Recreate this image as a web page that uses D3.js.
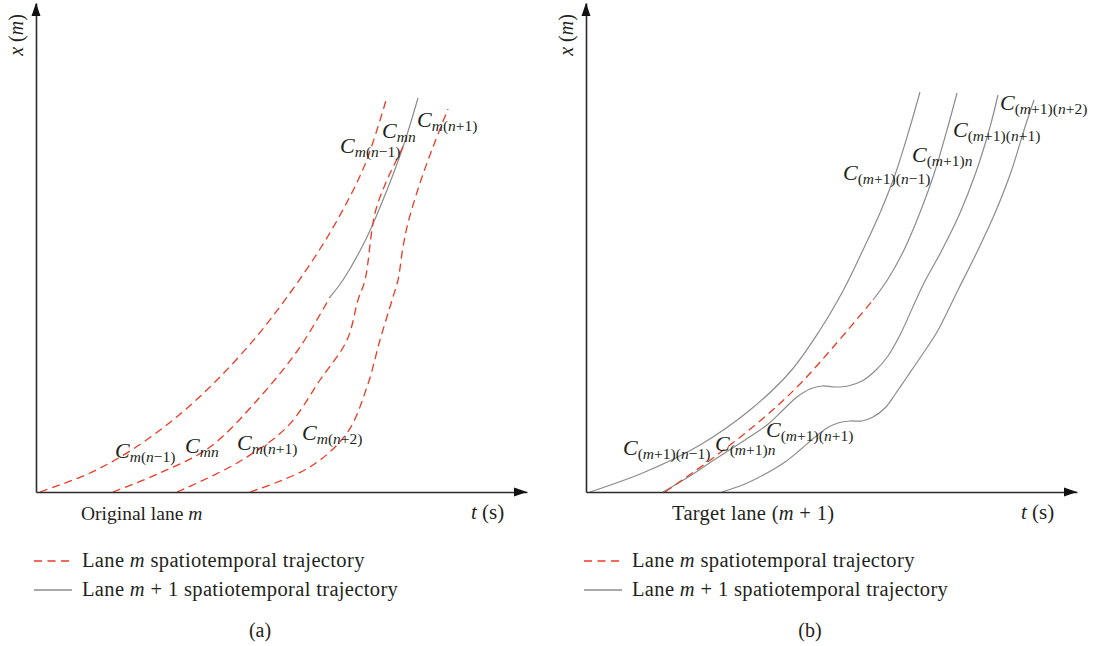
<!DOCTYPE html>
<html>
<head>
<meta charset="utf-8">
<script src="https://cdn.jsdelivr.net/npm/d3@7"></script>
<style>
  body { margin: 0; background: #fff; }
  svg text { font-family: "Liberation Serif", "DejaVu Serif", serif; fill: #231f20; }
</style>
</head>
<body>
<div class="chart"></div>
<script>
// schematic trajectories, units: t along time axis, x along distance axis
// panel (a): original lane m
var laneM_prev = [[0.4,0],[5.4,1.9],[9.4,4.1],[13.7,7.2],[17.9,11.0],[22.1,15.6],[25.4,19.9],[28.4,24.3],[30.9,28.6],[33.0,33.0],[35.1,39.5]];
var laneM_n = [[7.7,0],[12.4,1.9],[17.4,4.5],[22.4,9.5],[26.4,14.5],[29.4,19.5]];
var laneM_nChanged = [[29.4,19.5],[30.7,21.2],[33.1,25.5],[35.1,30.2],[36.7,34.5],[38.2,39.4]];
var laneM_next = [[14.1,0],[20.1,2.9],[25.1,6.5],[28.4,11.2],[31.1,15.2],[32.2,19.2],[32.9,21.2],[33.9,27.9],[35.1,31.2],[36.4,33.9],[37.0,35.2]];
var laneM_next2 = [[21.4,0],[27.4,2.5],[31.1,5.9],[33.1,10.5],[34.4,15.2],[35.7,19.5],[36.2,21.2],[36.7,24.5],[37.2,26.9],[38.4,30.9],[39.7,34.5],[41.2,38.3]];

// panel (b): target lane m+1
var target_prev = [[0.4,0],[5.9,2.0],[11.4,4.7],[16.4,8.2],[20.4,12.0],[23.4,16.2],[25.8,20.3],[27.6,24.0],[29.4,27.9],[31.0,32.0],[32.4,36.5],[33.4,40.0]];
var target_merge = [[7.9,0],[13.1,3.7],[18.1,7.7],[21.4,10.8],[24.9,14.7],[28.7,19.2]];
var target_mergeOn = [[28.7,19.2],[30.2,21.3],[31.8,24.2],[33.3,27.7],[34.8,31.8],[36.1,36.2],[37.1,39.9]];
var target_n = [[7.7,0],[10.4,1.6],[13.1,3.4],[15.9,5.2],[18.1,6.7],[19.7,8.2],[21.1,9.5],[22.4,10.3],[23.6,10.6],[24.9,10.5],[26.2,10.6],[27.6,11.1],[28.9,12.1],[30.2,13.6],[31.4,15.7],[33.7,20.7],[35.6,24.2],[37.4,27.9],[39.0,32.0],[40.4,36.5],[41.2,39.7]];
var target_next = [[13.6,0],[15.9,0.8],[18.1,1.9],[19.9,3.0],[21.4,4.2],[22.9,5.5],[24.1,6.4],[25.2,6.9],[26.4,7.1],[27.6,7.1],[28.7,7.5],[29.9,8.4],[31.0,9.9],[32.1,11.5],[33.6,13.7],[35.1,16.0],[37.2,20.2],[39.1,24.0],[40.9,27.9],[42.5,32.0],[43.9,36.5],[44.8,39.2]];

// vehicle labels: subscript, anchor t, anchor x
var labelsA = [["m(n−1)",30.4,33.9],["mn",34.6,35.4],["m(n+1)",38.1,36.5],
               ["m(n−1)",7.9,3.4],["mn",14.9,3.9],["m(n+1)",20.1,4.2],["m(n+2)",26.6,5.2]];
var labelsB = [["(m+1)(n−1)",25.7,31.2],["(m+1)n",32.6,33.0],["(m+1)(n+1)",36.7,35.5],["(m+1)(n+2)",41.4,38.2],
               ["(m+1)(n−1)",3.7,3.7],["(m+1)n",12.9,4.1],["(m+1)(n+1)",18.0,5.5]];

var legendItems = ["Lane |m| spatiotemporal trajectory", "Lane |m| + 1 spatiotemporal trajectory"];
var tMax = 49.1, xMax = 48.9;

var red = "#ec3a24", gray = "#8c8c8c", axisColor = "#2b2b2b";

var svg = d3.select(".chart").append("svg")
  .attr("width", 1096).attr("height", 646);

var panels = [
  {left: 36, lane: "Original lane |m|", laneX: 81, laneSize: 19.5, tag: "(a)", red: [laneM_prev, laneM_n, laneM_next, laneM_next2], gray: [laneM_nChanged], labels: labelsA},
  {left: 586, lane: "Target lane (|m| + 1)", laneX: 672, laneSize: 20.5, tag: "(b)", red: [target_merge], gray: [target_prev, target_mergeOn, target_n, target_next], labels: labelsB}
];

// write text where |..| segments are italic
function richText(sel, str) {
  str.split("|").forEach(function(part, i){
    if (part === "") return;
    sel.append("tspan").style("font-style", i % 2 ? "italic" : "normal").text(part);
  });
}

panels.forEach(function(p){
  var x = d3.scaleLinear().domain([0, tMax]).range([p.left, p.left + 491]);
  var y = d3.scaleLinear().domain([0, xMax]).range([492, 3]);
  var g = svg.append("g");

  var line = d3.line().x(function(d){ return x(d[0]); }).y(function(d){ return y(d[1]); })
    .curve(d3.curveCatmullRom.alpha(0.5));

  g.selectAll(".gl").data(p.gray).enter().append("path")
    .attr("d", line).attr("fill", "none").attr("stroke", gray).attr("stroke-width", 1.2);
  g.selectAll(".rl").data(p.red).enter().append("path")
    .attr("d", line).attr("fill", "none").attr("stroke", red).attr("stroke-width", 1.3)
    .attr("stroke-dasharray", "8,5");

  // axes
  g.append("g").attr("transform", "translate(0," + y(0) + ")")
    .call(d3.axisBottom(x).tickValues([]).tickSizeOuter(0));
  g.append("g").attr("transform", "translate(" + x(0) + ",0)")
    .call(d3.axisLeft(y).tickValues([]).tickSizeOuter(0));
  g.selectAll(".domain").attr("stroke", axisColor).attr("stroke-width", 1.6);
  // arrow heads
  g.append("path")
    .attr("d", "M" + x(tMax) + "," + y(0) + "l-13,-4.5l0,9z").attr("fill", "#111");
  g.append("path")
    .attr("d", "M" + x(0) + "," + y(xMax) + "l-4.5,13l9,0z").attr("fill", "#111");

  // vehicle labels
  p.labels.forEach(function(l){
    var t = g.append("text").attr("x", x(l[1])).attr("y", y(l[2]));
    t.append("tspan").style("font-style", "italic").style("font-size", "22px").text("C");
    var first = true;
    l[0].split("").forEach(function(ch){
      var s = t.append("tspan").style("font-size", "15.5px")
        .style("font-style", (ch === "m" || ch === "n") ? "italic" : "normal").text(ch);
      if (first) { s.attr("dy", 4); first = false; }
    });
  });

  // axis titles
  var tl = g.append("text").attr("x", x(tMax) - 56).attr("y", 519).style("font-size", "21px");
  richText(tl, "|t| (s)");
  var xl = g.append("text").attr("transform", "translate(" + (p.left - 13) + ",35) rotate(-90)")
    .attr("text-anchor", "middle").style("font-size", "20px");
  richText(xl, "|x| (|m|)");

  var ln = g.append("text").attr("x", p.laneX).attr("y", 520).style("font-size", p.laneSize + "px")
    .style("letter-spacing", p.left > 100 ? "0.3px" : "0px");
  richText(ln, p.lane);

  // legend
  legendItems.forEach(function(txt, i){
    var ly = 561 + i * 29;
    g.append("line").attr("x1", p.left - 2).attr("x2", p.left + 36).attr("y1", ly).attr("y2", ly)
      .attr("stroke", i === 0 ? red : gray).attr("stroke-width", 1.3)
      .attr("stroke-dasharray", i === 0 ? "8,5.5" : null);
    var tt = g.append("text").attr("x", p.left + 46).attr("y", ly + 6)
      .style("font-size", "20.5px").style("letter-spacing", "0.35px");
    richText(tt, txt);
  });

  g.append("text").attr("x", p.left + 224).attr("y", 637).attr("text-anchor", "middle")
    .style("font-size", "20px").text(p.tag);
});
</script>
</body>
</html>
